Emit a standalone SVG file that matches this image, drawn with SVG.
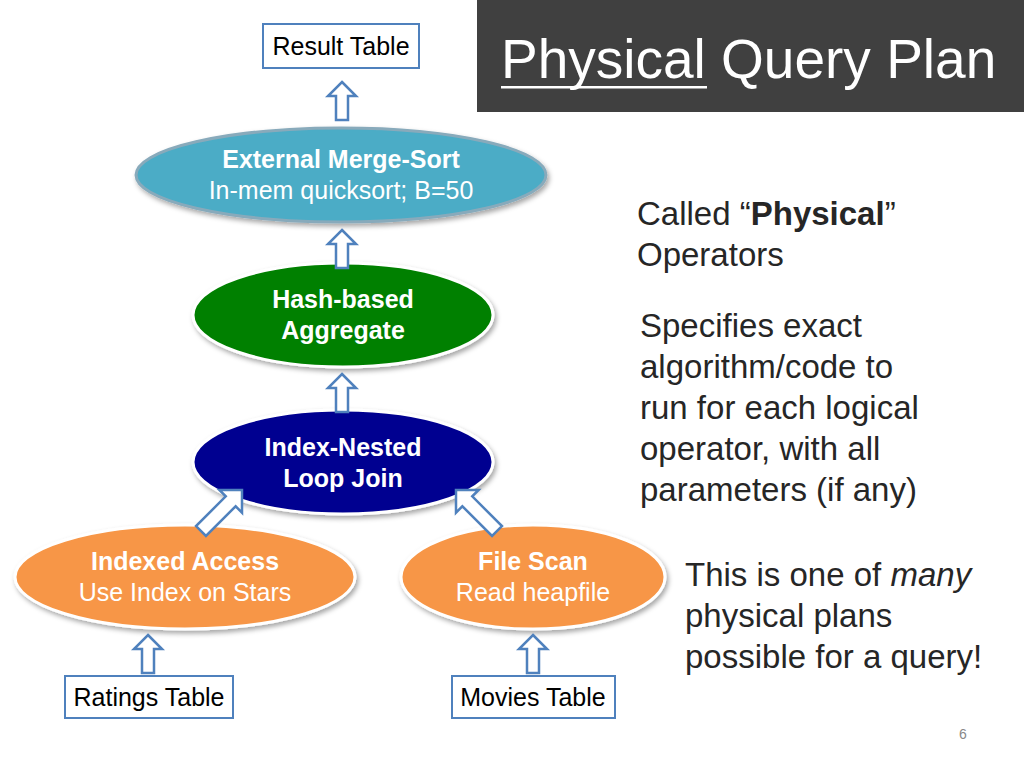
<svg xmlns="http://www.w3.org/2000/svg" width="1024" height="768" viewBox="0 0 1024 768">
<style>
.t{font-family:"Liberation Sans",Arial,sans-serif}
.w{fill:#fff;font-size:25px;text-anchor:middle}
.b{font-weight:bold}
.box{fill:#fff;stroke:#4f81bd;stroke-width:2}
.bt{font-size:25px;text-anchor:middle;fill:#000}
.r{font-size:33px;fill:#262626}
.ar{fill:#fff;stroke:#4f81bd;stroke-width:2.5;stroke-linejoin:miter}
.el{stroke:#fff;stroke-width:3;filter:url(#sh)}
</style>
<defs>
<filter id="sh" x="-10%" y="-10%" width="125%" height="130%"><feDropShadow dx="2" dy="3" stdDeviation="2.5" flood-color="#000" flood-opacity="0.35"/></filter>
<path id="ua" d="M0,0 L14,14 L6,14 L6,38 L-6,38 L-6,14 L-14,14 Z"/>
<path id="da" d="M0,0 L16,16 L7,16 L7,58 L-7,58 L-7,16 L-16,16 Z"/>
</defs>
<rect width="1024" height="768" fill="#fff"/>
<rect x="477" y="0" width="547" height="112" fill="#404040"/>
<text class="t" x="501" y="78" font-size="55" fill="#fff">Physical Query Plan</text>
<rect x="501" y="86" width="206" height="2.5" fill="#fff"/>
<g id="result"><rect class="box" x="263" y="24" width="156" height="44"/><text class="t bt" x="341" y="55">Result Table</text></g>
<g id="sort"><ellipse class="el" cx="341" cy="175" rx="205" ry="47" fill="#4bacc6" style="stroke:#8ab"/><text class="t w b" x="341" y="168">External Merge-Sort</text><text class="t w" x="341" y="199">In-mem quicksort; B=50</text></g>
<g id="hash"><ellipse class="el" cx="343" cy="315" rx="150" ry="52" fill="#008000"/><text class="t w b" x="343" y="308">Hash-based</text><text class="t w b" x="343" y="339">Aggregate</text></g>
<g id="join"><ellipse class="el" cx="343" cy="462" rx="150" ry="52" fill="#000090"/><text class="t w b" x="343" y="456">Index-Nested</text><text class="t w b" x="343" y="487">Loop Join</text></g>
<g id="idx"><ellipse class="el" cx="185" cy="577" rx="170" ry="52" fill="#f79646"/><text class="t w b" x="185" y="570">Indexed Access</text><text class="t w" x="185" y="601">Use Index on Stars</text></g>
<g id="scan"><ellipse class="el" cx="533" cy="577" rx="132" ry="52" fill="#f79646"/><text class="t w b" x="533" y="570">File Scan</text><text class="t w" x="533" y="601">Read heapfile</text></g>
<g id="ratings"><rect class="box" x="65" y="676" width="168" height="42"/><text class="t bt" x="149" y="706">Ratings Table</text></g>
<g id="movies"><rect class="box" x="452" y="676" width="163" height="42"/><text class="t bt" x="533" y="706">Movies Table</text></g>
<g id="connectors">
<use href="#ua" class="ar" x="342" y="82"/>
<use href="#ua" class="ar" x="342" y="230"/>
<use href="#ua" class="ar" x="342" y="374"/>
<use href="#da" class="ar" transform="translate(242,490) rotate(45)"/>
<use href="#da" class="ar" transform="translate(456,490) rotate(-45)"/>
<use href="#ua" class="ar" x="148" y="635"/>
<use href="#ua" class="ar" x="533" y="635"/>
</g>
<text class="t r" x="637" y="225">Called “<tspan font-weight="bold">Physical</tspan>”</text>
<text class="t r" x="637" y="266">Operators</text>
<text class="t r" x="640" y="337">Specifies exact</text>
<text class="t r" x="640" y="378">algorithm/code to</text>
<text class="t r" x="640" y="419">run for each logical</text>
<text class="t r" x="640" y="460">operator, with all</text>
<text class="t r" x="640" y="501">parameters (if any)</text>
<text class="t r" x="685" y="586">This is one of <tspan font-style="italic">many</tspan></text>
<text class="t r" x="685" y="627">physical plans</text>
<text class="t r" x="685" y="668">possible for a query!</text>
<text class="t" x="963" y="739" font-size="14" fill="#888" text-anchor="middle">6</text>
</svg>
